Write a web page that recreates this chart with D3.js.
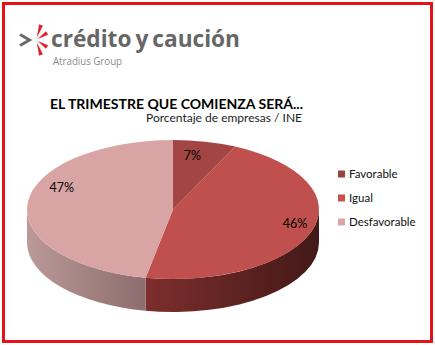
<!DOCTYPE html>
<html>
<head>
<meta charset="utf-8">
<script src="https://cdn.jsdelivr.net/npm/d3@7/dist/d3.min.js"></script>
<style>
  html, body { margin: 0; padding: 0; background: #fff; }
  svg { display: block; }
</style>
</head>
<body>
<svg id="chart" width="435" height="345"></svg>
<script>
// Survey shares for the coming quarter
const categories = ["Favorable", "Igual", "Desfavorable"];
const values = [7, 46, 47];
const valueLabels = ["7%", "46%", "47%"];

const titleText = "EL TRIMESTRE QUE COMIENZA SERÁ...";
const subtitleText = "Porcentaje de empresas / INE";

// Colours: top faces, legend keys and side walls (light → dark)
const topColors = ["#A34543", "#C0504D", "#D9A5A4"];
const legendColors = ["#9E4240", "#C9504E", "#D9A6A5"];
const sideColors = [["#7a2e2c", "#441a19"], ["#7d2e2c", "#421918"], ["#bb9999", "#8c6c6c"]];

const svg = d3.select("#chart");
const defs = svg.append("defs");
const font = "Lato, 'Open Sans', sans-serif";

// Outer frame
svg.append("rect")
  .attr("x", 3.5).attr("y", 3.5).attr("width", 428).attr("height", 338)
  .attr("fill", "#fff").attr("stroke", "#E5121A").attr("stroke-width", 3);

// Company logo
const logo = svg.append("g");
logo.append("path")
  .attr("d", "M20,34.5 L29.5,40 L20,45.5")
  .attr("fill", "none").attr("stroke", "#6a6a6a").attr("stroke-width", 3)
  .attr("stroke-linejoin", "miter");
const star = [[41, 25], [47, 33], [47, 47], [41, 55]];
star.forEach(([ex, ey]) => {
  const ox = 36, oy = 40;
  const dx = ex - ox, dy = ey - oy, len = Math.hypot(dx, dy);
  const nx = -dy / len * 2, ny = dx / len * 2;
  logo.append("path")
    .attr("d", `M${ox + dx * 0.15},${oy + dy * 0.15} L${ex + nx},${ey + ny} L${ex - nx},${ey - ny} Z`)
    .attr("fill", "#E0222B");
});
logo.append("text")
  .attr("x", 51).attr("y", 47)
  .attr("font-family", "'Open Sans', sans-serif").attr("font-weight", 700)
  .attr("font-size", 24).attr("fill", "#666")
  .attr("word-spacing", -2)
  .attr("textLength", 189).attr("lengthAdjust", "spacingAndGlyphs")
  .text("crédito y caución");
logo.append("text")
  .attr("x", 53).attr("y", 65)
  .attr("font-family", "'Open Sans', sans-serif")
  .attr("font-size", 10.5).attr("fill", "#8a8a8a")
  .attr("textLength", 69).attr("lengthAdjust", "spacingAndGlyphs")
  .text("Atradius Group");

// Titles
svg.append("text")
  .attr("x", 50).attr("y", 109)
  .attr("font-family", font).attr("font-weight", 700)
  .attr("font-size", 14).attr("fill", "#000")
  .attr("textLength", 253).attr("lengthAdjust", "spacingAndGlyphs")
  .text(titleText);
svg.append("text")
  .attr("x", 146).attr("y", 122)
  .attr("font-family", font)
  .attr("font-size", 11).attr("fill", "#222")
  .attr("textLength", 156).attr("lengthAdjust", "spacingAndGlyphs")
  .text(subtitleText);

// 3D pie geometry
const cx = 173, cy = 209.5, rx = 146, ry = 69.5, depth = 33;
const pt = (a, dz = 0) => [cx + rx * Math.sin(a), cy - ry * Math.cos(a) + dz];

const pie = d3.pie().sort(null).value(d => d.value);
const arcs = pie(categories.map((c, i) => ({ cat: c, value: values[i], i })));

const sides = svg.append("g");
const tops = svg.append("g");

arcs.forEach(a => {
  const i = a.data.i;
  // Visible part of the wall: the front half of the ellipse
  const s = Math.max(a.startAngle, Math.PI / 2);
  const e = Math.min(a.endAngle, 3 * Math.PI / 2);
  if (s < e) {
    const p0 = pt(s), p1 = pt(e), q1 = pt(e, depth), q0 = pt(s, depth);
    const gx0 = Math.min(p0[0], p1[0]), gx1 = Math.max(p0[0], p1[0]);
    const gid = "side" + i;
    const g = defs.append("linearGradient").attr("id", gid)
      .attr("gradientUnits", "userSpaceOnUse")
      .attr("x1", gx0).attr("x2", gx1).attr("y1", 0).attr("y2", 0);
    g.append("stop").attr("offset", 0).attr("stop-color", sideColors[i][0]);
    g.append("stop").attr("offset", 1).attr("stop-color", sideColors[i][1]);
    sides.append("path")
      .attr("d", `M${p0} A${rx},${ry} 0 0 1 ${p1} L${q1} A${rx},${ry} 0 0 0 ${q0} Z`)
      .attr("fill", `url(#${gid})`);
  }
  const t0 = pt(a.startAngle), t1 = pt(a.endAngle);
  const large = (a.endAngle - a.startAngle) > Math.PI ? 1 : 0;
  tops.append("path")
    .attr("d", `M${cx},${cy} L${t0} A${rx},${ry} 0 ${large} 1 ${t1} Z`)
    .attr("fill", topColors[i]);
});

// Value labels
const labelNudge = [[-6, 0], [11, -3], [5, -17]];
const labels = svg.append("g")
  .attr("font-family", font).attr("font-size", 12.5).attr("fill", "#000")
  .attr("text-anchor", "middle");
arcs.forEach(a => {
  const i = a.data.i;
  const m = (a.startAngle + a.endAngle) / 2;
  const x = cx + 0.8 * rx * Math.sin(m) + labelNudge[i][0];
  const y = cy - 0.8 * ry * Math.cos(m) + labelNudge[i][1];
  labels.append("text").attr("x", x).attr("y", y + 4.5).text(valueLabels[i]);
});

// Legend
const legendY = d3.scalePoint().domain(categories).range([174, 222]);
const legend = svg.append("g").attr("font-family", font).attr("font-size", 11.5);
categories.forEach((c, i) => {
  const y = legendY(c);
  legend.append("rect").attr("x", 338).attr("y", y - 3.5).attr("width", 7).attr("height", 7)
    .attr("fill", legendColors[i]);
  legend.append("text").attr("x", 349).attr("y", y + 4).attr("fill", "#111").text(c);
});
</script>
</body>
</html>
